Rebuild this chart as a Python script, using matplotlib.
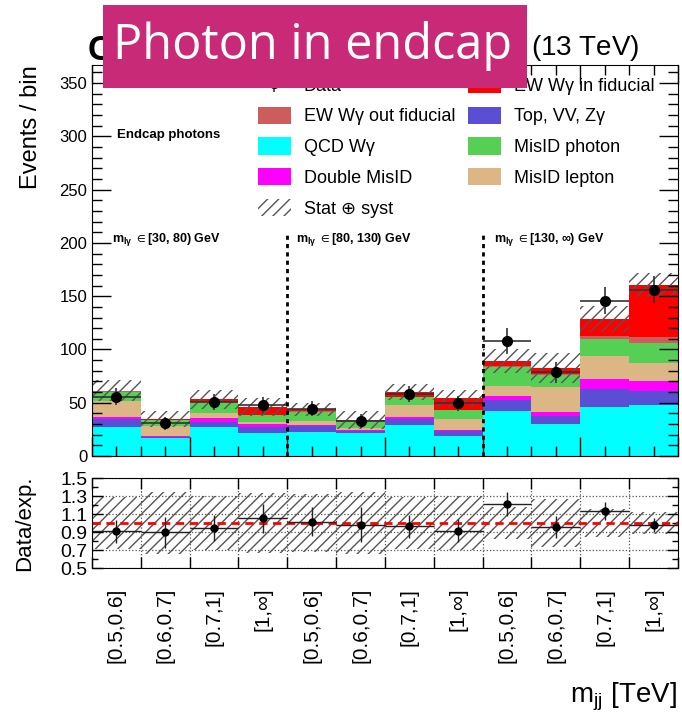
import matplotlib
matplotlib.use('Agg')
import numpy as np
import matplotlib.pyplot as plt
import matplotlib.transforms as mtransforms
from matplotlib.patches import Patch, Rectangle
from matplotlib.ticker import MultipleLocator, FixedLocator, NullFormatter

plt.rcParams['font.family'] = ['Liberation Sans', 'DejaVu Sans']
plt.rcParams['mathtext.fontset'] = 'custom'
plt.rcParams['mathtext.rm'] = 'Liberation Sans'
plt.rcParams['mathtext.it'] = 'Liberation Sans:italic'
plt.rcParams['mathtext.bf'] = 'Liberation Sans:bold'
plt.rcParams['mathtext.default'] = 'regular'
plt.rcParams['hatch.linewidth'] = 1.0

# m_jj bins, repeated for the three m_lgamma slices
bin_labels = ['[0.5,0.6]', '[0.6,0.7]', '[0.7,1]', '[1,∞]'] * 3
mlg_ranges = ['[30, 80)', '[80, 130)', '[130, ∞)']

# expected yields per bin, stacked bottom to top
qcd_wg = [27.0, 16.8, 27.0, 21.9, 22.8, 21.9, 29.1, 19.1, 42.6, 29.8, 46.3, 48.2]
top_vv_zg = [7.8, 1.2, 5.3, 5.7, 5.4, 1.9, 5.7, 4.4, 10.0, 8.1, 17.0, 12.9]
double_misid = [1.6, 0.8, 3.1, 2.2, 0.9, 0.6, 1.6, 1.2, 3.8, 3.1, 9.4, 9.4]
misid_lepton = [15.3, 9.0, 5.3, 1.8, 4.1, 1.6, 11.5, 10.1, 9.4, 23.6, 21.3, 17.2]
misid_photon = [8.7, 5.6, 9.7, 6.9, 8.5, 6.3, 7.2, 8.4, 17.6, 11.5, 15.7, 18.2]
ew_out_fid = [0.2, 0.2, 0.2, 0.3, 0.3, 0.2, 0.4, 0.4, 1.1, 0.7, 3.1, 6.2]
ew_in_fid = [0.8, 0.7, 2.7, 6.9, 1.9, 1.3, 4.7, 10.6, 4.5, 5.6, 15.7, 48.3]

# total uncertainty on the prediction (events) and on the ratio
pred_unc = [10, 7.5, 9, 8.5, 6, 8, 7.5, 8, 11, 14, 12, 11]
ratio_unc = [0.29, 0.34, 0.30, 0.33, 0.32, 0.34, 0.29, 0.30, 0.18, 0.27, 0.16, 0.12]

data = [55.7, 30.7, 50.4, 48.0, 44.5, 33.2, 58.0, 49.5, 107.8, 78.7, 145.7, 156.0]
data_err = [8, 6, 7.5, 7.5, 7, 6.5, 7.5, 7, 12, 10, 12.5, 12.5]

components = [
    (qcd_wg, '#00ffff', 'QCD Wγ'),
    (top_vv_zg, '#5a4fd4', 'Top, VV, Zγ'),
    (double_misid, '#ff00ff', 'Double MisID'),
    (misid_lepton, '#dcb684', 'MisID lepton'),
    (misid_photon, '#55d055', 'MisID photon'),
    (ew_out_fid, '#cd5c5c', 'EW Wγ out fiducial'),
    (ew_in_fid, '#ff0000', 'EW Wγ in fiducial'),
]

nbins = len(bin_labels)
edges = np.arange(nbins)
centers = edges + 0.5

fig = plt.figure(figsize=(6.82, 7.16), dpi=100)
ax = fig.add_axes([0.1349, 0.3631, 0.8592, 0.5461])
axr = fig.add_axes([0.1349, 0.2067, 0.8592, 0.1257])

# stacked prediction
bottom = np.zeros(nbins)
patches = {}
for vals, col, lab in components:
    vals = np.array(vals)
    ax.bar(edges, vals, width=1, bottom=bottom, align='edge', color=col, linewidth=0)
    patches[lab] = Patch(facecolor=col, edgecolor='none')
    bottom = bottom + vals
total = bottom

pred_unc = np.array(pred_unc)
ax.bar(edges, 2 * pred_unc, width=1, bottom=total - pred_unc, align='edge',
       fill=False, hatch='///', edgecolor='#555555', linewidth=0)

data = np.array(data)
data_err = np.array(data_err)
eb = ax.errorbar(centers, data, xerr=0.5, yerr=data_err, fmt='o', color='black',
                 ecolor='#333333', ms=7, elinewidth=1.2, capsize=0)

# m_lgamma slice separators
ax.vlines([4, 8], 0, 208, colors='black', linestyles=(0, (1.5, 1.5)), linewidth=2)
for i, rng in enumerate(mlg_ranges):
    ax.text(4 * i + [0.41, 0.18, 0.23][i], 203, r'm$_{lγ}$ $\in$' + rng + ' GeV',
            fontsize=9, fontweight='bold', va='center', ha='left')
ax.text(0.52, 301.5, 'Endcap photons', fontsize=9.5, fontweight='bold', va='center')

ax.set_xlim(0, nbins)
ax.set_ylim(0, 367)
ax.xaxis.set_major_locator(MultipleLocator(2))
ax.xaxis.set_minor_locator(MultipleLocator(0.5))
ax.xaxis.set_major_formatter(NullFormatter())
ax.yaxis.set_major_locator(MultipleLocator(50))
ax.yaxis.set_minor_locator(MultipleLocator(10))
ax.tick_params(which='both', direction='in', top=True, right=True, labelsize=12)
ax.tick_params(which='major', length=14, width=1)
ax.tick_params(which='minor', length=7, width=1)
ax.set_ylabel('Events / bin', fontsize=17, loc='top')
ax.yaxis.set_label_coords(-0.085, 1.0)

# legend, two columns
handles = [eb, patches['EW Wγ out fiducial'], patches['QCD Wγ'], patches['Double MisID'],
           Patch(facecolor='white', edgecolor='#555555', hatch='///', linewidth=0),
           patches['EW Wγ in fiducial'], patches['Top, VV, Zγ'],
           patches['MisID photon'], patches['MisID lepton']]
labels = ['Data', 'EW Wγ out fiducial', 'QCD Wγ', 'Double MisID', 'Stat ⊕ syst',
          'EW Wγ in fiducial', 'Top, VV, Zγ', 'MisID photon', 'MisID lepton']
ax.legend(handles, labels, ncol=2, loc='upper left', bbox_to_anchor=(0.378, 0.894),
          bbox_transform=fig.transFigure, frameon=False, fontsize=13,
          handlelength=1.85, handleheight=1.1, labelspacing=0.66,
          handletextpad=0.7, columnspacing=0.7, borderpad=0, borderaxespad=0)

# ratio panel
ratio = data / total
ratio_err = data_err / total
ratio_unc = np.array(ratio_unc)
axr.bar(edges, 2 * ratio_unc, width=1, bottom=1 - ratio_unc, align='edge',
        fill=False, hatch='///', edgecolor='#555555', linewidth=0)
axr.axhline(1.0, color='red', linestyle=(0, (3, 2)), linewidth=2)
axr.errorbar(centers, ratio, xerr=0.5, yerr=ratio_err, fmt='o', color='black',
             ecolor='#222222', ms=5, elinewidth=1.0, capsize=0)
axr.set_xlim(0, nbins)
axr.set_ylim(0.5, 1.5)
axr.xaxis.set_major_locator(MultipleLocator(1))
axr.xaxis.set_major_formatter(NullFormatter())
axr.yaxis.set_major_locator(FixedLocator([0.5, 0.7, 0.9, 1.1, 1.3, 1.5]))
axr.yaxis.set_minor_locator(MultipleLocator(0.1))
axr.tick_params(which='both', direction='in', top=True, right=True, labelsize=14)
axr.tick_params(which='major', length=8, width=1)
axr.tick_params(which='minor', length=4, width=1)
axr.grid(which='major', linestyle=':', color='#555555', linewidth=0.9)
axr.set_ylabel('Data/exp.', fontsize=16)
axr.yaxis.set_label_coords(-0.097, 0.5)

trans = mtransforms.blended_transform_factory(axr.transData, axr.transAxes)
for c, lab in zip(centers, bin_labels):
    axr.text(c, -0.22, lab, rotation=90, ha='center', va='top', fontsize=15,
             transform=trans)

fig.text(0.992, 1 - 697 / 716, 'm$_{jj}$ [TeV]', ha='right', va='center', fontsize=20)

# header
fig.text(88 / 682, 1 - 60 / 716, 'CMS', fontsize=25, fontweight='bold', va='baseline')
fig.text(639 / 682, 1 - 56 / 716, '138 fb$^{-1}$ (13 TeV)', fontsize=20,
         ha='right', va='baseline')
fig.patches.append(Rectangle((103 / 682, 1 - 88 / 716), 424 / 682, 83 / 716,
                             transform=fig.transFigure, facecolor='#c92a78',
                             edgecolor='none', zorder=10))
fig.text(313 / 682, 1 - 46 / 716, 'Photon in endcap', fontsize=35, color='white',
         family='Open Sans', ha='center', va='center', zorder=11)

fig.savefig('out.png', dpi=100)
